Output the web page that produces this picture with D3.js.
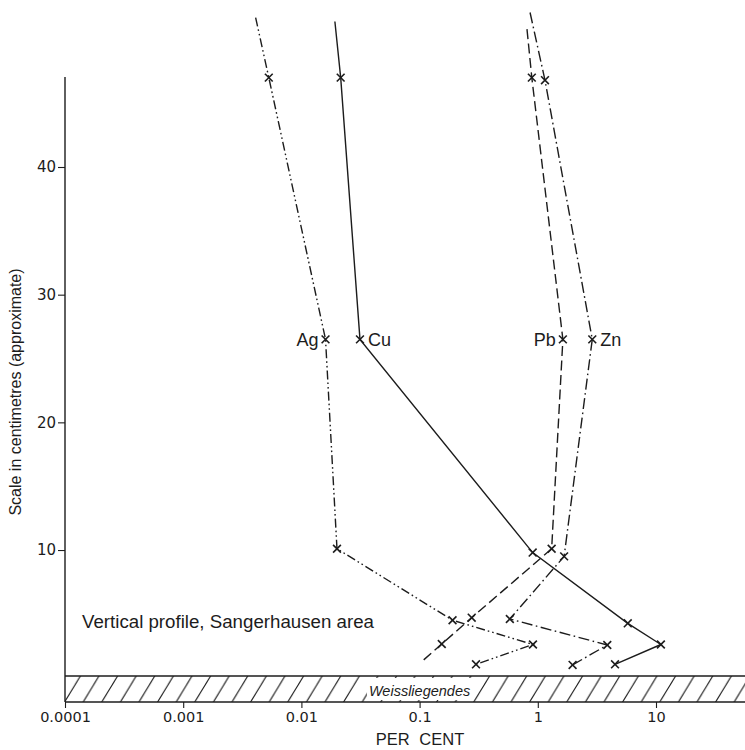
<!DOCTYPE html>
<html>
<head>
<meta charset="utf-8">
<script src="https://cdn.jsdelivr.net/npm/d3@7"></script>
<style>
  html, body { margin: 0; padding: 0; background: #fff; }
  svg { display: block; }
</style>
</head>
<body>
<svg id="chart" width="745" height="750"></svg>
<script>
// ---- Data (per cent vs. height above Weissliegendes, cm) ----
// marked: 1 = point drawn with an "x", 0 = line end without marker
const agPct   = [0.0041, 0.0053, 0.016, 0.020, 0.19, 0.91, 0.30];
const agDepth = [51.7,   47,     26.5,  10.1,  4.5,  2.6,  1.05];
const agMark  = [0, 1, 1, 1, 1, 1, 1];

const cuPct   = [0.0192, 0.0215, 0.0313, 0.905, 5.77, 11.0, 4.5];
const cuDepth = [51.4,   47,     26.5,   9.8,   4.26, 2.6,  1.05];
const cuMark  = [0, 1, 1, 1, 1, 1, 1];

const pbPct   = [0.81, 0.89, 1.63, 1.31, 0.276, 0.154, 0.104];
const pbDepth = [50.8, 47.0, 26.5, 10.1, 4.7,   2.64,  1.25];
const pbMark  = [0, 1, 1, 1, 1, 1, 0];

const znPct   = [0.86, 1.15, 2.89, 1.67, 0.58, 3.87, 1.97];
const znDepth = [52.1, 46.8, 26.5, 9.5,  4.6,  2.56, 1.0];
const znMark  = [0, 1, 1, 1, 1, 1, 1];

const seriesNames = ["Ag", "Cu", "Pb", "Zn"];
const xTickValues = [0.0001, 0.001, 0.01, 0.1, 1, 10];
const xTickLabels = ["0.0001", "0.001", "0.01", "0.1", "1", "10"];
const yTickValues = [10, 20, 30, 40];

// ---- Build series ----
function build(p, d, m) { return p.map((v, i) => ({ pct: v, depth: d[i], mark: m[i] })); }
const series = [
  { name: seriesNames[0], pts: build(agPct, agDepth, agMark), dash: "9,3,1.6,3,1.6,3", labelSide: "left", labelIdx: 2 },
  { name: seriesNames[1], pts: build(cuPct, cuDepth, cuMark), dash: null,              labelSide: "right", labelIdx: 2 },
  { name: seriesNames[2], pts: build(pbPct, pbDepth, pbMark), dash: "10,4.5",          labelSide: "left", labelIdx: 2 },
  { name: seriesNames[3], pts: build(znPct, znDepth, znMark), dash: "11,3.5,1.6,3.5",  labelSide: "right", labelIdx: 2 }
];

// ---- Scales ----
const svg = d3.select("#chart");
const ink = "#1c1c1c";
const x = d3.scaleLog().domain([1e-4, 10]).range([65, 656]);
const y = d3.scaleLinear().domain([0, 40]).range([677.7, 167]);
const bandTop = 676, bandBot = 702, rightEdge = 745;

// ---- Hatched band (Weissliegendes) ----
const defs = svg.append("defs");
const pat = defs.append("pattern")
  .attr("id", "hatch").attr("patternUnits", "userSpaceOnUse")
  .attr("x", 65).attr("y", bandTop).attr("width", 18.6).attr("height", bandBot - bandTop);
pat.append("line").attr("x1", -1).attr("y1", bandBot - bandTop + 1).attr("x2", 16).attr("y2", -1)
  .attr("stroke", ink).attr("stroke-width", 1.1);
pat.append("line").attr("x1", 17.6).attr("y1", bandBot - bandTop + 1).attr("x2", 34.6).attr("y2", -1)
  .attr("stroke", ink).attr("stroke-width", 1.1);

svg.append("rect").attr("x", 65).attr("y", bandTop)
  .attr("width", rightEdge - 65).attr("height", bandBot - bandTop)
  .attr("fill", "url(#hatch)");
svg.append("line").attr("x1", 65).attr("x2", rightEdge).attr("y1", bandTop).attr("y2", bandTop)
  .attr("stroke", ink).attr("stroke-width", 1.4);
svg.append("line").attr("x1", 65).attr("x2", rightEdge).attr("y1", bandBot).attr("y2", bandBot)
  .attr("stroke", ink).attr("stroke-width", 1.4);

const wl = svg.append("text").attr("x", x(0.1)).attr("y", 695.5)
  .attr("text-anchor", "middle")
  .attr("font-family", "Liberation Sans, Arial, sans-serif")
  .attr("font-style", "italic").attr("font-size", 14.5).attr("fill", ink)
  .text("Weissliegendes");
const bb = wl.node().getBBox();
svg.insert("rect", "text").attr("x", bb.x - 2).attr("y", bandTop + 2)
  .attr("width", bb.width + 4).attr("height", bandBot - bandTop - 4).attr("fill", "#fff");

// ---- Axes ----
svg.append("line").attr("x1", 65).attr("x2", 65).attr("y1", 77).attr("y2", bandBot)
  .attr("stroke", ink).attr("stroke-width", 1.4);

const yAxis = svg.append("g").attr("transform", "translate(65,0)")
  .call(d3.axisLeft(y).tickValues(yTickValues).tickSize(7).tickPadding(2).tickFormat(d3.format("d")));
yAxis.select(".domain").remove();
yAxis.selectAll("line").attr("stroke", ink).attr("stroke-width", 1.1);
yAxis.selectAll("text").attr("font-family", "DejaVu Sans, sans-serif").attr("font-size", 15).attr("fill", ink);

const xAxis = svg.append("g").attr("transform", `translate(0,${bandBot})`)
  .call(d3.axisBottom(x).tickValues(xTickValues).tickSize(6).tickPadding(4)
    .tickFormat((d, i) => xTickLabels[i]));
xAxis.select(".domain").remove();
xAxis.selectAll("line").attr("stroke", ink).attr("stroke-width", 1.1);
xAxis.selectAll("text").attr("font-family", "DejaVu Sans, sans-serif").attr("font-size", 14.5).attr("fill", ink);

svg.append("text").attr("x", 420).attr("y", 745).attr("text-anchor", "middle")
  .attr("font-family", "Liberation Sans, Arial, sans-serif").attr("font-size", 16.5)
  .attr("word-spacing", 5).attr("fill", ink).text("PER CENT");

svg.append("text").attr("transform", "translate(21,392) rotate(-90)")
  .attr("text-anchor", "middle")
  .attr("font-family", "Liberation Sans, Arial, sans-serif").attr("font-size", 16)
  .attr("fill", ink).text("Scale in centimetres (approximate)");

svg.append("text").attr("x", 82).attr("y", 628)
  .attr("font-family", "Liberation Sans, Arial, sans-serif").attr("font-size", 18.7)
  .attr("fill", ink).text("Vertical profile, Sangerhausen area");

// ---- Lines ----
const line = d3.line().x(d => x(d.pct)).y(d => y(d.depth));
series.forEach(s => {
  svg.append("path").datum(s.pts).attr("d", line)
    .attr("fill", "none").attr("stroke", ink).attr("stroke-width", 1.4)
    .attr("stroke-dasharray", s.dash);
  const marks = s.pts.filter(p => p.mark);
  const g = svg.append("g");
  marks.forEach(p => {
    const cx = x(p.pct), cy = y(p.depth), r = 3.9;
    g.append("line").attr("x1", cx - r).attr("y1", cy - r).attr("x2", cx + r).attr("y2", cy + r)
      .attr("stroke", ink).attr("stroke-width", 1.6);
    g.append("line").attr("x1", cx - r).attr("y1", cy + r).attr("x2", cx + r).attr("y2", cy - r)
      .attr("stroke", ink).attr("stroke-width", 1.6);
  });
  const lp = s.pts[s.labelIdx];
  const lx = x(lp.pct) + (s.labelSide === "left" ? -7 : 8);
  svg.append("text").attr("x", lx).attr("y", y(lp.depth) + 6.5)
    .attr("text-anchor", s.labelSide === "left" ? "end" : "start")
    .attr("font-family", "Liberation Sans, Arial, sans-serif").attr("font-size", 18)
    .attr("fill", ink).text(s.name);
});
</script>
</body>
</html>
